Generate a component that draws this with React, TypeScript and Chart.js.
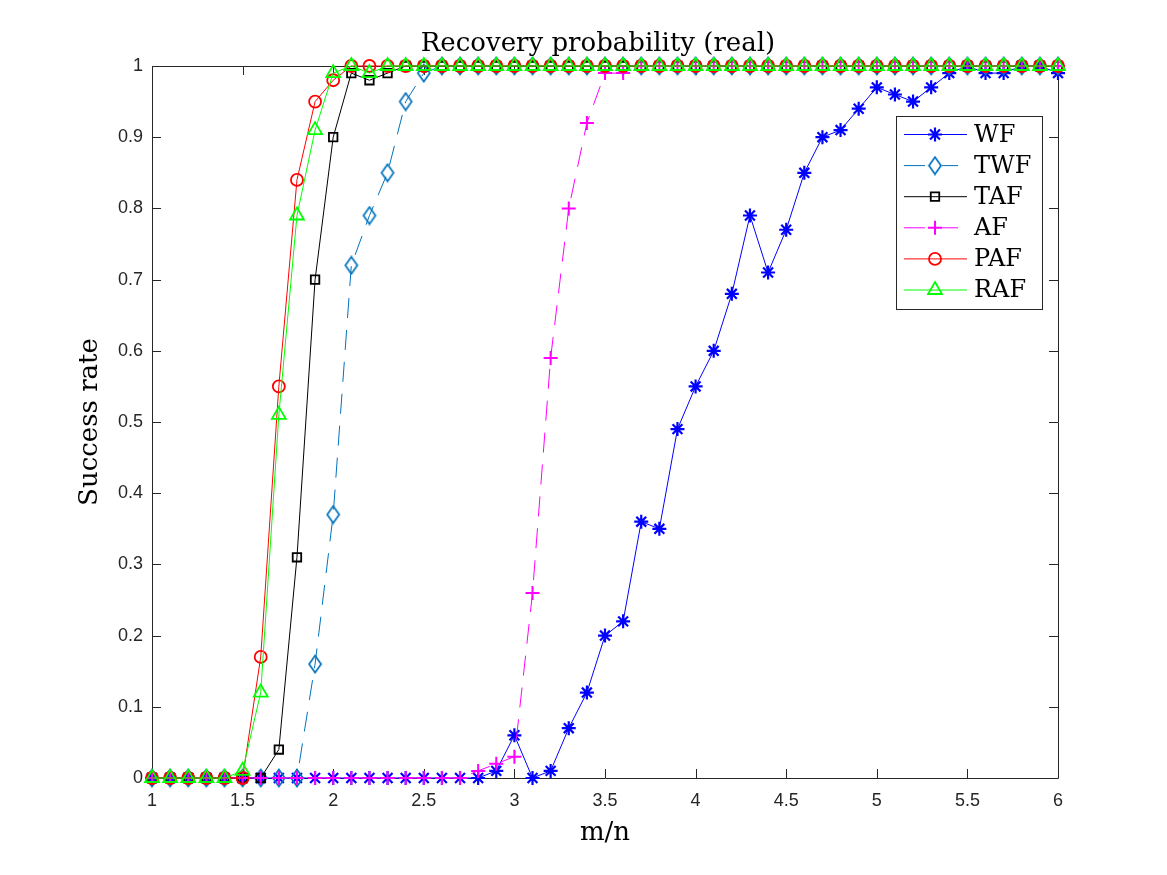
import { useEffect, useRef } from 'react';
import { Chart, registerables } from 'chart.js';

Chart.register(...registerables);

// Oversampling ratio m/n
const mValues = [
  1.0, 1.1, 1.2, 1.3, 1.4, 1.5, 1.6, 1.7, 1.8, 1.9,
  2.0, 2.1, 2.2, 2.3, 2.4, 2.5, 2.6, 2.7, 2.8, 2.9,
  3.0, 3.1, 3.2, 3.3, 3.4, 3.5, 3.6, 3.7, 3.8, 3.9,
  4.0, 4.1, 4.2, 4.3, 4.4, 4.5, 4.6, 4.7, 4.8, 4.9,
  5.0, 5.1, 5.2, 5.3, 5.4, 5.5, 5.6, 5.7, 5.8, 5.9,
  6.0,
];

// Success rates per algorithm
const wfRates = [
  0, 0, 0, 0, 0, 0, 0, 0, 0, 0,
  0, 0, 0, 0, 0, 0, 0, 0, 0, 0.01,
  0.06, 0, 0.01, 0.07, 0.12, 0.20, 0.22, 0.36, 0.35, 0.49,
  0.55, 0.60, 0.68, 0.79, 0.71, 0.77, 0.85, 0.90, 0.91, 0.94,
  0.97, 0.96, 0.95, 0.97, 0.99, 1.0, 0.99, 0.99, 1.0, 1.0,
  0.99,
];
const twfRates = [
  0, 0, 0, 0, 0, 0, 0, 0, 0, 0.16,
  0.37, 0.72, 0.79, 0.85, 0.95, 0.99, 1, 1, 1, 1,
  1, 1, 1, 1, 1, 1, 1, 1, 1, 1,
  1, 1, 1, 1, 1, 1, 1, 1, 1, 1,
  1, 1, 1, 1, 1, 1, 1, 1, 1, 1,
  1,
];
const tafRates = [
  0, 0, 0, 0, 0, 0, 0, 0.04, 0.31, 0.70,
  0.90, 0.99, 0.98, 0.99, 1, 1, 1, 1, 1, 1,
  1, 1, 1, 1, 1, 1, 1, 1, 1, 1,
  1, 1, 1, 1, 1, 1, 1, 1, 1, 1,
  1, 1, 1, 1, 1, 1, 1, 1, 1, 1,
  1,
];
const afRates = [
  0, 0, 0, 0, 0, 0, 0, 0, 0, 0,
  0, 0, 0, 0, 0, 0, 0, 0, 0.01, 0.02,
  0.03, 0.26, 0.59, 0.80, 0.92, 0.99, 0.99, 1, 1, 1,
  1, 1, 1, 1, 1, 1, 1, 1, 1, 1,
  1, 1, 1, 1, 1, 1, 1, 1, 1, 1,
  1,
];
const pafRates = [
  0, 0, 0, 0, 0, 0, 0.17, 0.55, 0.84, 0.95,
  0.98, 1, 1, 1, 1, 1, 1, 1, 1, 1,
  1, 1, 1, 1, 1, 1, 1, 1, 1, 1,
  1, 1, 1, 1, 1, 1, 1, 1, 1, 1,
  1, 1, 1, 1, 1, 1, 1, 1, 1, 1,
  1,
];
const rafRates = [
  0, 0, 0, 0, 0, 0.01, 0.12, 0.51, 0.79, 0.91,
  0.99, 1, 0.99, 1, 1, 1, 1, 1, 1, 1,
  1, 1, 1, 1, 1, 1, 1, 1, 1, 1,
  1, 1, 1, 1, 1, 1, 1, 1, 1, 1,
  1, 1, 1, 1, 1, 1, 1, 1, 1, 1,
  1,
];

const seriesNames = ['WF', 'TWF', 'TAF', 'AF', 'PAF', 'RAF'];

const xTicks = [1, 1.5, 2, 2.5, 3, 3.5, 4, 4.5, 5, 5.5, 6];
const xTickLabels = ['1', '1.5', '2', '2.5', '3', '3.5', '4', '4.5', '5', '5.5', '6'];
const yTicks = [0, 0.1, 0.2, 0.3, 0.4, 0.5, 0.6, 0.7, 0.8, 0.9, 1];
const yTickLabels = ['0', '0.1', '0.2', '0.3', '0.4', '0.5', '0.6', '0.7', '0.8', '0.9', '1'];

const titleText = 'Recovery probability (real)';
const xTitle = 'm/n';
const yTitle = 'Success rate';

const AXIS_COLOR = '#262626';
const SERIF = '"DejaVu Serif", serif';
const SANS = '"Liberation Sans", Arial, sans-serif';
const DASH = [20, 12];

// Taller-than-wide outlined diamond marker
function makeDiamond(color: string): HTMLCanvasElement {
  const c = document.createElement('canvas');
  c.width = 16;
  c.height = 20;
  const ctx = c.getContext('2d')!;
  ctx.strokeStyle = color;
  ctx.lineWidth = 1.7;
  ctx.beginPath();
  ctx.moveTo(8, 1.5);
  ctx.lineTo(14, 10);
  ctx.lineTo(8, 18.5);
  ctx.lineTo(2, 10);
  ctx.closePath();
  ctx.stroke();
  return c;
}

const axesBoxPlugin = {
  id: 'axesBox',
  beforeDatasetsDraw(chart: any) {
    const { ctx, chartArea } = chart;
    const { left, right, top, bottom } = chartArea;
    const xs = chart.scales.x;
    const ys = chart.scales.y;
    const tl = 9;
    ctx.save();
    ctx.strokeStyle = AXIS_COLOR;
    ctx.lineWidth = 1;
    ctx.beginPath();
    ctx.rect(Math.round(left) + 0.5, Math.round(top) + 0.5, Math.round(right - left), Math.round(bottom - top));
    xTicks.forEach((v) => {
      const px = Math.round(xs.getPixelForValue(v)) + 0.5;
      ctx.moveTo(px, bottom);
      ctx.lineTo(px, bottom - tl);
      ctx.moveTo(px, top);
      ctx.lineTo(px, top + tl);
    });
    yTicks.forEach((v) => {
      const py = Math.round(ys.getPixelForValue(v)) + 0.5;
      ctx.moveTo(left, py);
      ctx.lineTo(left + tl, py);
      ctx.moveTo(right, py);
      ctx.lineTo(right - tl, py);
    });
    ctx.stroke();
    ctx.restore();
  },
};

function drawPointShape(ctx: CanvasRenderingContext2D, style: string, r: number, x: number, y: number) {
  ctx.beginPath();
  switch (style) {
    case 'circle':
      ctx.arc(x, y, r, 0, Math.PI * 2);
      break;
    case 'rect': {
      const s = Math.SQRT1_2 * r;
      ctx.rect(x - s, y - s, 2 * s, 2 * s);
      break;
    }
    case 'triangle': {
      let rad = 0;
      ctx.moveTo(x + Math.sin(rad) * r, y - Math.cos(rad) * r);
      rad += (2 * Math.PI) / 3;
      ctx.lineTo(x + Math.sin(rad) * r, y - Math.cos(rad) * r);
      rad += (2 * Math.PI) / 3;
      ctx.lineTo(x + Math.sin(rad) * r, y - Math.cos(rad) * r);
      ctx.closePath();
      break;
    }
    case 'cross':
      ctx.moveTo(x, y - r);
      ctx.lineTo(x, y + r);
      ctx.moveTo(x - r, y);
      ctx.lineTo(x + r, y);
      break;
    case 'star': {
      ctx.moveTo(x, y - r);
      ctx.lineTo(x, y + r);
      ctx.moveTo(x - r, y);
      ctx.lineTo(x + r, y);
      const d = r * Math.SQRT1_2;
      ctx.moveTo(x - d, y - d);
      ctx.lineTo(x + d, y + d);
      ctx.moveTo(x - d, y + d);
      ctx.lineTo(x + d, y - d);
      break;
    }
  }
  ctx.stroke();
}

const labelsPlugin = {
  id: 'labelsAndLegend',
  afterDraw(chart: any) {
    const { ctx, chartArea } = chart;
    ctx.save();
    ctx.fillStyle = '#000000';
    ctx.font = `26px ${SERIF}`;
    ctx.textAlign = 'center';
    ctx.textBaseline = 'alphabetic';
    const cx = (chartArea.left + chartArea.right) / 2;
    ctx.fillText(titleText, cx - 7, 51);
    ctx.fillText(xTitle, cx, 840);

    ctx.save();
    ctx.translate(90, (chartArea.top + chartArea.bottom) / 2);
    ctx.rotate(-Math.PI / 2);
    ctx.textBaseline = 'middle';
    ctx.fillText(yTitle, 0, 0);
    ctx.restore();

    // Legend box
    const boxL = 896, boxT = 116, boxR = 1042, boxB = 309;
    ctx.fillStyle = '#ffffff';
    ctx.fillRect(boxL, boxT, boxR - boxL, boxB - boxT);
    ctx.strokeStyle = AXIS_COLOR;
    ctx.lineWidth = 1;
    ctx.strokeRect(boxL + 0.5, boxT + 0.5, boxR - boxL, boxB - boxT);

    const datasets = chart.data.datasets;
    datasets.forEach((ds: any, i: number) => {
      const y = 134.5 + i * 31.1;
      ctx.save();
      ctx.strokeStyle = ds.borderColor;
      ctx.lineWidth = 1;
      const dashed = Array.isArray(ds.borderDash) && ds.borderDash.length > 0;
      ctx.setLineDash(dashed ? [21, 17] : []);
      ctx.beginPath();
      ctx.moveTo(904, y);
      ctx.lineTo(dashed ? 958 : 967, y);
      ctx.stroke();
      ctx.setLineDash([]);
      const style = ds.pointStyle;
      if (style instanceof HTMLCanvasElement) {
        ctx.drawImage(style, 935 - style.width / 2, y - style.height / 2);
      } else {
        ctx.lineWidth = ds.pointBorderWidth;
        ctx.strokeStyle = ds.pointBorderColor;
        drawPointShape(ctx, style, ds.pointRadius, 935, y);
      }
      ctx.restore();
      ctx.fillStyle = '#000000';
      ctx.font = `24px ${SERIF}`;
      ctx.textAlign = 'left';
      ctx.textBaseline = 'middle';
      ctx.fillText(seriesNames[i], 974, y + 1);
    });
    ctx.restore();
  },
};

export default function App() {
  const canvasRef = useRef<HTMLCanvasElement | null>(null);

  useEffect(() => {
    const canvas = canvasRef.current;
    if (!canvas) return;

    const toPoints = (rates: number[]) => mValues.map((m, i) => ({ x: m, y: rates[i] }));
    const base = {
      backgroundColor: 'rgba(0,0,0,0)',
      pointBackgroundColor: 'rgba(0,0,0,0)',
      borderWidth: 1,
      tension: 0,
      clip: false as const,
      pointHoverRadius: 0,
    };

    const datasets: any[] = [
      {
        ...base,
        label: seriesNames[0],
        data: toPoints(wfRates),
        borderColor: '#0000ff',
        pointBorderColor: '#0000ff',
        pointStyle: 'star',
        pointRadius: 7,
        pointBorderWidth: 2.2,
        order: 6,
      },
      {
        ...base,
        label: seriesNames[1],
        data: toPoints(twfRates),
        borderColor: '#0072bd',
        pointBorderColor: '#0072bd',
        borderDash: DASH,
        pointStyle: makeDiamond('#0072bd'),
        pointRadius: 8,
        pointBorderWidth: 1.7,
        order: 5,
      },
      {
        ...base,
        label: seriesNames[2],
        data: toPoints(tafRates),
        borderColor: '#000000',
        pointBorderColor: '#000000',
        pointStyle: 'rect',
        pointRadius: 6,
        pointBorderWidth: 1.8,
        order: 4,
      },
      {
        ...base,
        label: seriesNames[3],
        data: toPoints(afRates),
        borderColor: '#ff00ff',
        pointBorderColor: '#ff00ff',
        borderDash: DASH,
        pointStyle: 'cross',
        pointRadius: 7,
        pointBorderWidth: 2,
        order: 3,
      },
      {
        ...base,
        label: seriesNames[4],
        data: toPoints(pafRates),
        borderColor: '#ff0000',
        pointBorderColor: '#ff0000',
        pointStyle: 'circle',
        pointRadius: 6,
        pointBorderWidth: 1.8,
        order: 2,
      },
      {
        ...base,
        label: seriesNames[5],
        data: toPoints(rafRates),
        borderColor: '#00ff00',
        pointBorderColor: '#00ff00',
        pointStyle: 'triangle',
        pointRadius: 8,
        pointBorderWidth: 1.8,
        order: 1,
      },
    ];

    const chart = new Chart(canvas, {
      type: 'line',
      data: { datasets },
      options: {
        responsive: false,
        animation: false,
        events: [],
        layout: { padding: { top: 66, right: 109, left: 0, bottom: 0 } },
        plugins: {
          legend: { display: false },
          title: { display: false },
          tooltip: { enabled: false },
        },
        scales: {
          x: {
            type: 'linear',
            min: 1,
            max: 6,
            grid: { display: false, drawTicks: false },
            border: { display: false },
            afterBuildTicks: (scale: any) => {
              scale.ticks = xTicks.map((v) => ({ value: v }));
            },
            afterFit: (scale: any) => {
              scale.height = 97;
            },
            ticks: {
              autoSkip: false,
              maxRotation: 0,
              padding: 12,
              color: AXIS_COLOR,
              font: { family: SANS, size: 18 },
              callback: (_v: any, i: number) => xTickLabels[i],
            },
          },
          y: {
            type: 'linear',
            min: 0,
            max: 1,
            grid: { display: false, drawTicks: false },
            border: { display: false },
            afterBuildTicks: (scale: any) => {
              scale.ticks = yTicks.map((v) => ({ value: v }));
            },
            afterFit: (scale: any) => {
              scale.width = 152;
            },
            ticks: {
              autoSkip: false,
              padding: 9,
              color: AXIS_COLOR,
              font: { family: SANS, size: 18 },
              callback: (_v: any, i: number) => yTickLabels[i],
            },
          },
        },
      },
      plugins: [axesBoxPlugin, labelsPlugin],
    });

    return () => chart.destroy();
  }, []);

  return (
    <div style={{ position: 'absolute', left: 0, top: 0, width: 1167, height: 875, background: '#ffffff' }}>
      <canvas ref={canvasRef} width={1167} height={875} style={{ display: 'block' }} />
    </div>
  );
}
